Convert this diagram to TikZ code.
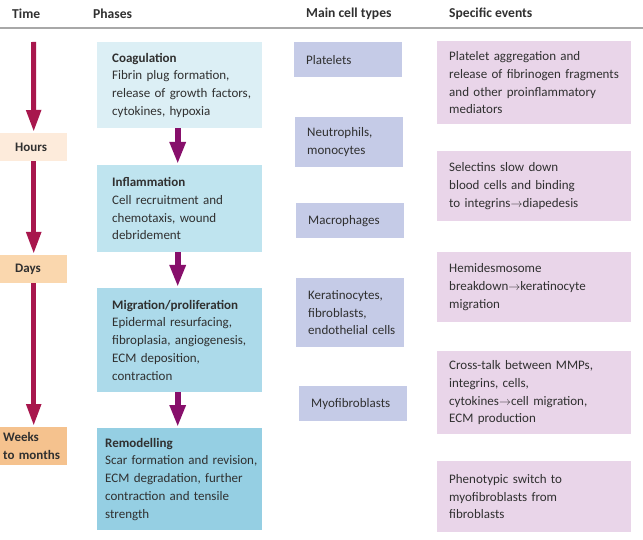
\documentclass[tikz,border=0pt]{standalone}
\usepackage{fontspec}
\setmainfont{Carlito}
\usetikzlibrary{arrows.meta}
\definecolor{timearrow}{HTML}{A8174D}
\definecolor{phasearrow}{HTML}{870F6B}
\definecolor{hoursc}{HTML}{FDEBDB}
\definecolor{daysc}{HTML}{FAD7AE}
\definecolor{weeksc}{HTML}{F5C28E}
\definecolor{coagc}{HTML}{DCEFF5}
\definecolor{inflamc}{HTML}{BFE4EF}
\definecolor{migrc}{HTML}{ACDAEA}
\definecolor{remodc}{HTML}{95CFE3}
\definecolor{cellc}{HTML}{C5CBE7}
\definecolor{eventc}{HTML}{E9D5E9}
\definecolor{textc}{HTML}{303030}
\definecolor{rulec}{HTML}{A8A8A8}
\begin{document}
\begin{tikzpicture}[x=1pt,y=-1pt,
  txt/.style={font=\fontsize{13}{17.8}\selectfont, text=textc},
  box/.style n args={3}{txt, anchor=north west, inner xsep=0pt, inner ysep=0pt,
    minimum width=#1pt, text width=#1pt, minimum height=#2pt, align=left,
    execute at begin node={\leftskip=#3pt}},
  hdr/.style={font=\fontsize{13.6}{15}\selectfont\bfseries, text=textc, anchor=west, inner sep=0pt},
  tarrow/.style={draw=timearrow, line width=5pt, -{Triangle[width=14pt,length=22pt]}, shorten >=1pt},
  parrow/.style={draw=phasearrow, line width=6pt, -{Triangle[width=15pt,length=22pt]}, shorten >=1pt}
]
\useasboundingbox (0,0) rectangle (643,540);
\fill[white] (0,0) rectangle (643,540);

% header
\node[hdr] (hTime) at (12,14) {Time};
\node[hdr] (hPhases) at (93,14) {Phases};
\node[hdr] (hCells) at (306,14) {Main cell types};
\node[hdr] (hEvents) at (449,14) {Specific events};
\draw[rulec, line width=2pt] (0,28) -- (643,28);

% time column
\coordinate (tstart) at (33.5,42);
\node[box={67}{28}{15}, fill=hoursc] (hours) at (0,133) {\bfseries Hours};
\node[box={67}{28}{15}, fill=daysc] (days) at (0,255) {\bfseries Days};
\node[box={67}{38}{3}, fill=weeksc] (weeks) at (0,427) {\bfseries Weeks\\to months};
\draw[tarrow] (tstart) -- (hours.north);
\draw[tarrow] (hours.south) -- (days.north);
\draw[tarrow] (days.south) -- (weeks.north);

% phases
\node[box={165}{86}{15}, fill=coagc] (coag) at (97,42)
  {\textbf{Coagulation}\\Fibrin plug formation,\\release of growth factors,\\cytokines, hypoxia};
\node[box={165}{87}{15}, fill=inflamc] (inflam) at (97,165)
  {\textbf{Inflammation}\\Cell recruitment and\\chemotaxis, wound\\debridement};
\node[box={165}{104}{15}, fill=migrc] (migr) at (97,288)
  {\textbf{Migration/proliferation}\\Epidermal resurfacing,\\fibroplasia, angiogenesis,\\ECM deposition,\\contraction};
\node[box={165}{102}{8}, fill=remodc] (remod) at (97,428)
  {\textbf{Remodelling}\\Scar formation and revision,\\ECM degradation, further\\contraction and tensile\\strength};
\draw[parrow] ([xshift=-2pt]coag.south) -- ([xshift=-2pt]inflam.north);
\draw[parrow] ([xshift=-2pt]inflam.south) -- ([xshift=-2pt]migr.north);
\draw[parrow] ([xshift=-2pt]migr.south) -- ([xshift=-2pt]remod.north);

% cell types
\node[box={108}{35}{12}, fill=cellc] (platelets) at (294,42) {Platelets};
\node[box={108}{50}{12}, fill=cellc] (neutro) at (295,117) {Neutrophils,\\monocytes};
\node[box={108}{35}{12}, fill=cellc] (macro) at (296,203) {Macrophages};
\node[box={108}{69}{12}, fill=cellc] (kerat) at (296,278) {Keratinocytes,\\fibroblasts,\\endothelial cells};
\node[box={108}{35}{12}, fill=cellc] (myo) at (299,386) {Myofibroblasts};

% specific events
\node[box={194}{83}{12}, fill=eventc] (ev1) at (437,41)
  {Platelet aggregation and\\release of fibrinogen fragments\\and other proinflammatory\\mediators};
\node[box={194}{70}{12}, fill=eventc] (ev2) at (437,151)
  {Selectins slow down\\blood cells and binding\\to integrins$\rightarrow$diapedesis};
\node[box={194}{70}{12}, fill=eventc] (ev3) at (437,252)
  {Hemidesmosome\\breakdown$\rightarrow$keratinocyte\\migration};
\node[box={194}{83}{12}, fill=eventc] (ev4) at (437,351)
  {Cross-talk between MMPs,\\integrins, cells,\\cytokines$\rightarrow$cell migration,\\ECM production};
\node[box={194}{71}{12}, fill=eventc] (ev5) at (437,461)
  {Phenotypic switch to\\myofibroblasts from\\fibroblasts};
\end{tikzpicture}
\end{document}
